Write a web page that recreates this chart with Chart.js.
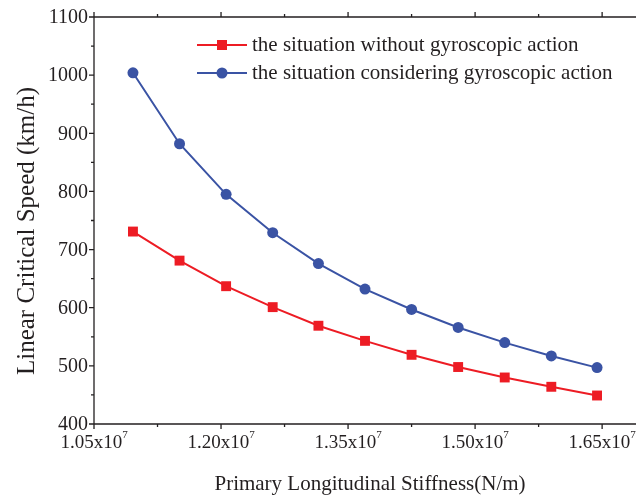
<!DOCTYPE html>
<html>
<head>
<meta charset="utf-8">
<script src="https://cdn.jsdelivr.net/npm/chart.js@4/dist/chart.umd.min.js"></script>
<style>
html,body{margin:0;padding:0;background:#fff;}
#c{display:block;}
</style>
</head>
<body>
<canvas id="c" width="636" height="496"></canvas>
<script>
// ---- data ----
const stiffness = [1.096e7, 1.151e7, 1.206e7, 1.261e7, 1.315e7, 1.370e7, 1.425e7, 1.480e7, 1.535e7, 1.590e7, 1.644e7];
const speedWithout = [731, 681, 637, 601, 569, 543, 519, 498, 480, 464, 449];
const speedWith = [1004, 882, 795, 729, 676, 632, 597, 566, 540, 517, 497];
const seriesLabels = ['the situation without gyroscopic action', 'the situation considering gyroscopic action'];
const xTickValues = [1.05e7, 1.20e7, 1.35e7, 1.50e7, 1.65e7];
const xTickText = ['1.05x10', '1.20x10', '1.35x10', '1.50x10', '1.65x10'];
const xTickExp = '7';
const yTickValues = [400, 500, 600, 700, 800, 900, 1000, 1100];
const xTitle = 'Primary Longitudinal Stiffness(N/m)';
const yTitle = 'Linear Critical Speed (km/h)';

const RED = '#ed1c24';
const BLUE = '#3a53a4';
const INK = '#231f20';
const FONT = '"Liberation Serif", "Times New Roman", serif';

function toXY(xs, ys){ return xs.map((x,i)=>({x:x, y:ys[i]})); }

const axesPlugin = {
  id: 'axesPlugin',
  afterDraw(chart){
    const ctx = chart.ctx;
    const xs = chart.scales.x, ys = chart.scales.y;
    const a = chart.chartArea;
    ctx.save();
    ctx.strokeStyle = INK;
    ctx.lineWidth = 1.3;
    // frame: left, bottom, top
    ctx.beginPath();
    ctx.moveTo(a.left, a.top); ctx.lineTo(a.left, a.bottom);
    ctx.moveTo(a.left, a.bottom); ctx.lineTo(a.right, a.bottom);
    ctx.moveTo(a.left, a.top); ctx.lineTo(a.right, a.top);
    ctx.stroke();
    // x ticks (major + minor)
    ctx.beginPath();
    xTickValues.forEach((v,i)=>{
      const px = xs.getPixelForValue(v);
      ctx.moveTo(px, a.bottom); ctx.lineTo(px, a.bottom+5);
      ctx.moveTo(px, a.top); ctx.lineTo(px, a.top-5);
      if (i < xTickValues.length-1){
        const m = xs.getPixelForValue((v + xTickValues[i+1])/2);
        ctx.moveTo(m, a.bottom); ctx.lineTo(m, a.bottom+3);
        ctx.moveTo(m, a.top); ctx.lineTo(m, a.top-3);
      }
    });
    // y ticks
    yTickValues.forEach((v,i)=>{
      const py = ys.getPixelForValue(v);
      ctx.moveTo(a.left, py); ctx.lineTo(a.left-5, py);
      if (i < yTickValues.length-1){
        const m = ys.getPixelForValue((v + yTickValues[i+1])/2);
        ctx.moveTo(a.left, m); ctx.lineTo(a.left-3, m);
      }
    });
    ctx.stroke();

    ctx.fillStyle = INK;
    // y tick labels
    ctx.font = '20px ' + FONT;
    ctx.textAlign = 'right';
    ctx.textBaseline = 'middle';
    yTickValues.forEach(v=>{
      ctx.fillText(String(v), a.left-6, ys.getPixelForValue(v)+1);
    });
    // x tick labels with superscript
    xTickValues.forEach((v,i)=>{
      const px = xs.getPixelForValue(v);
      ctx.font = '19px ' + FONT;
      const w1 = ctx.measureText(xTickText[i]).width;
      ctx.font = '11px ' + FONT;
      const w2 = ctx.measureText(xTickExp).width;
      const left = px - (w1 + w2)/2;
      ctx.textAlign = 'left';
      ctx.textBaseline = 'alphabetic';
      ctx.font = '19px ' + FONT;
      ctx.fillText(xTickText[i], left, a.bottom + 24);
      ctx.font = '11px ' + FONT;
      ctx.fillText(xTickExp, left + w1, a.bottom + 14);
    });
    // axis titles
    ctx.font = '21px ' + FONT;
    ctx.textAlign = 'center';
    ctx.textBaseline = 'middle';
    ctx.fillText(xTitle, 370, 484);
    ctx.save();
    ctx.font = '25px ' + FONT;
    ctx.translate(27, 231);
    ctx.rotate(-Math.PI/2);
    ctx.fillText(yTitle, 0, 0);
    ctx.restore();

    // legend
    const rows = [45, 73];
    chart.data.datasets.forEach((ds,i)=>{
      const y = rows[i];
      ctx.strokeStyle = ds.borderColor;
      ctx.lineWidth = 2;
      ctx.beginPath(); ctx.moveTo(197, y); ctx.lineTo(247, y); ctx.stroke();
      ctx.fillStyle = ds.backgroundColor;
      if (ds.pointStyle === 'rect'){
        ctx.fillRect(222-5, y-5, 10, 10);
      } else {
        ctx.beginPath(); ctx.arc(222, y, 5.5, 0, Math.PI*2); ctx.fill();
      }
      ctx.fillStyle = INK;
      ctx.font = '21px ' + FONT;
      ctx.textAlign = 'left';
      ctx.textBaseline = 'middle';
      ctx.fillText(ds.label, 252, y);
    });
    ctx.restore();
  }
};

new Chart(document.getElementById('c'), {
  type: 'line',
  data: {
    datasets: [
      {
        label: seriesLabels[0],
        data: toXY(stiffness, speedWithout),
        borderColor: RED, backgroundColor: RED,
        borderWidth: 2, pointStyle: 'rect', pointRadius: 7,
        pointBorderWidth: 0, tension: 0
      },
      {
        label: seriesLabels[1],
        data: toXY(stiffness, speedWith),
        borderColor: BLUE, backgroundColor: BLUE,
        borderWidth: 2, pointStyle: 'circle', pointRadius: 5.5,
        pointBorderWidth: 0, tension: 0
      }
    ]
  },
  options: {
    responsive: false,
    animation: false,
    layout: { autoPadding: false, padding: { left: 94, right: 0, top: 17, bottom: 72 } },
    plugins: { legend: { display: false }, tooltip: { enabled: false } },
    scales: {
      x: { type: 'linear', min: 1.05e7, max: 1.69e7, display: false },
      y: { type: 'linear', min: 400, max: 1100, display: false }
    }
  },
  plugins: [axesPlugin]
});
</script>
</body>
</html>
